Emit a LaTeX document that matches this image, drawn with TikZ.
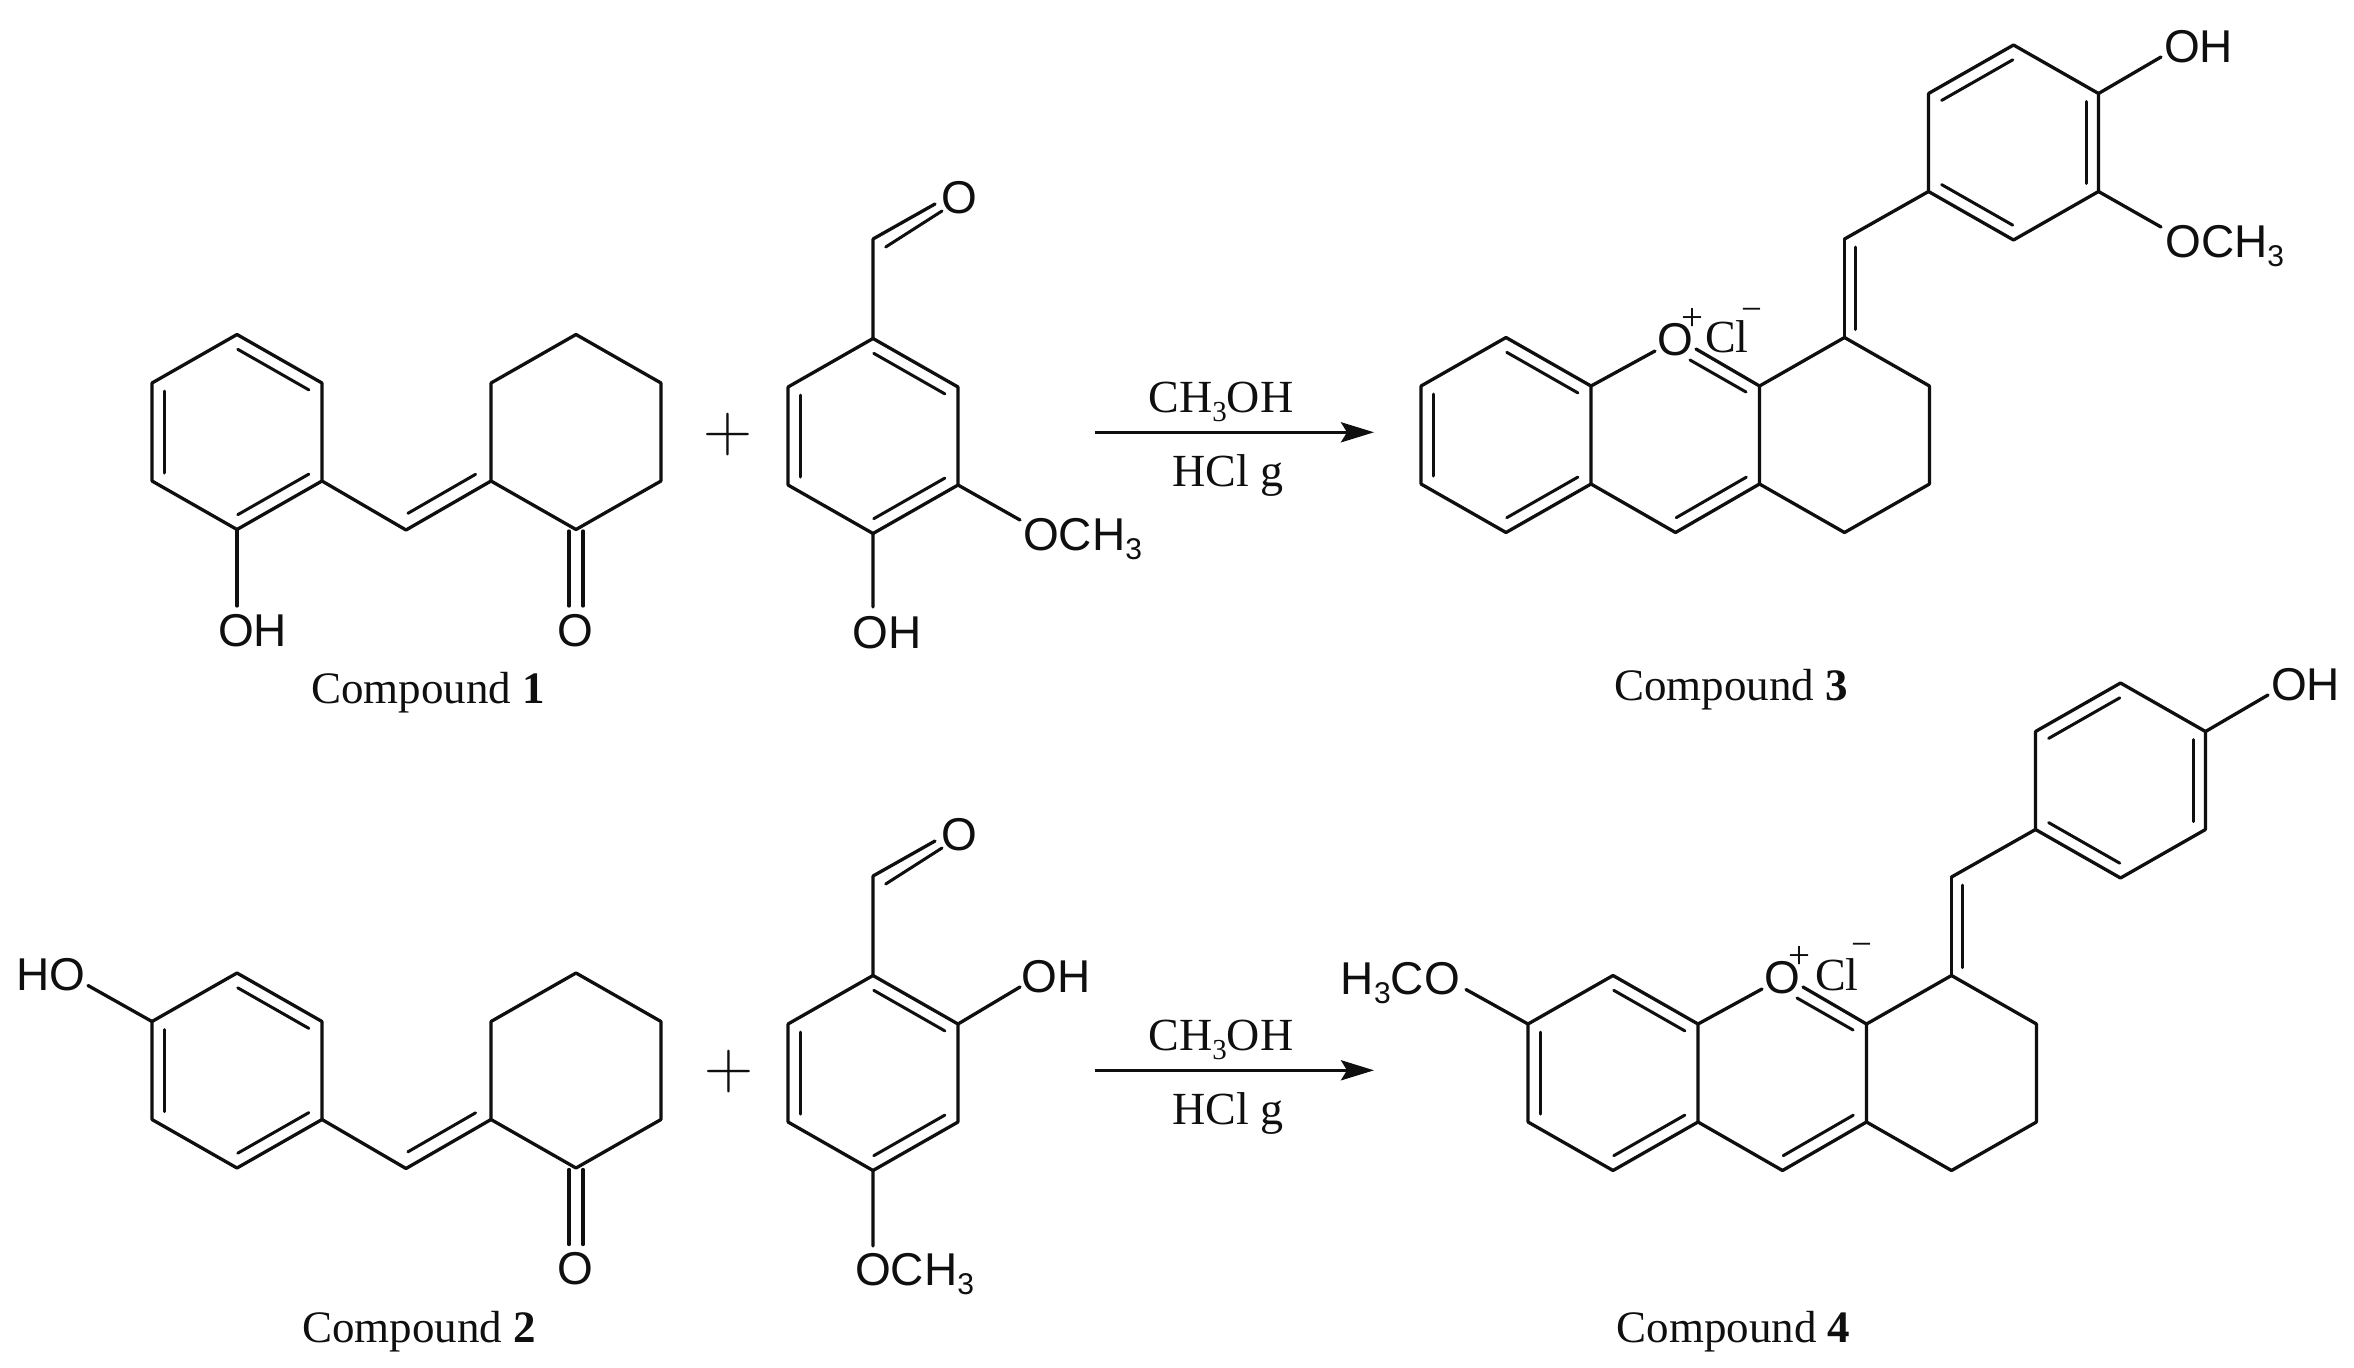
\documentclass[tikz,border=0pt]{standalone}
\usepackage{fontspec}
\usetikzlibrary{calc,arrows.meta}
\newfontfamily\lsans{Liberation Sans}
\newfontfamily\lserif{Liberation Serif}
\definecolor{ink}{HTML}{0F0F0F}
\newcommand\subsans{\raisebox{-9pt}{\fontsize{30}{30}\selectfont 3}}
\newcommand\subserif{\raisebox{-9pt}{\fontsize{29}{30}\selectfont 3}}
\tikzset{
  bond/.style={line width=3.3pt,line cap=round,draw=ink},
  innerbond/.style={line width=3pt,line cap=round,draw=ink},
  rxnarrow/.style={line width=3.4pt,draw=ink,-{Stealth[length=33pt,width=20pt,inset=6pt]}},
  atomlabel/.style={inner sep=0pt,anchor=base,text=ink,font=\lsans\fontsize{46}{50}\selectfont},
  atomwest/.style={atomlabel,anchor=base west},
  atomeast/.style={atomlabel,anchor=base east},
  serif/.style={inner sep=0pt,anchor=base,text=ink,font=\lserif\fontsize{46}{50}\selectfont},
  caption/.style={inner sep=0pt,anchor=base,text=ink,font=\lserif\fontsize{45}{50}\selectfont},
  plussign/.style={inner sep=0pt,text=ink,font=\fontsize{68}{70}\selectfont},
  chargeplus/.style={inner sep=0pt,text=ink,font=\lserif\fontsize{39}{40}\selectfont},
  chargeminus/.style={inner sep=0pt,text=ink,font=\lserif\fontsize{37}{40}\selectfont},
}
% six ring atoms: prefix, centre x, centre y
\newcommand\hexring[3]{%
  \coordinate (#1T)  at (#2,{#3-97.5});
  \coordinate (#1UR) at ({#2+85},{#3-49});
  \coordinate (#1LR) at ({#2+85},{#3+49});
  \coordinate (#1B)  at (#2,{#3+97.5});
  \coordinate (#1LL) at ({#2-85},{#3+49});
  \coordinate (#1UL) at ({#2-85},{#3-49});
  \draw[bond] (#1T)--(#1UR) (#1UR)--(#1LR) (#1LR)--(#1B) (#1B)--(#1LL) (#1LL)--(#1UL) (#1UL)--(#1T);
}
% inner line of a double bond, on the left of a->b: a, b, shortening, offset
\newcommand\dbl[4]{\draw[innerbond] ($(#1)!#3pt!(#2)!#4pt!90:(#2)$) -- ($(#2)!#3pt!(#1)!#4pt!-90:(#1)$);}
\newcommand\aromatic[1]{\dbl{#1UR}{#1T}{8}{12.5}\dbl{#1UL}{#1LL}{8}{12.5}\dbl{#1B}{#1LR}{8}{12.5}}
% aryl-CH=cyclohexanone, ring centre at y=0 of the scope
\newcommand\enone[1]{%
  \hexring{#1a}{237}{0}
  \aromatic{#1a}
  \hexring{#1k}{576}{0}
  \coordinate (#1ch) at (406,98);
  \draw[bond] (#1aLR)--(#1ch) (#1ch)--(#1kLL);
  \dbl{#1ch}{#1kLL}{10}{13.5}
  \coordinate (#1cl) at (569,99);
  \coordinate (#1cr) at (583,99);
  \coordinate (#1ol) at (569,174);
  \coordinate (#1or) at (583,174);
  \draw[bond] (#1cl)--(#1ol) (#1cr)--(#1or);
  \node[atomlabel] (#1keto) at (575,214) {O};
}
% benzaldehyde with its C=O, ring centre at y=0 of the scope
\newcommand\aldehyde[1]{%
  \hexring{#1r}{873}{0}
  \aromatic{#1r}
  \coordinate (#1cho) at (873,-197);
  \coordinate (#1oa) at (935,-232);
  \coordinate (#1ia) at (885.7,-189);
  \coordinate (#1ib) at (942,-225);
  \draw[bond] (#1rT)--(#1cho) (#1cho)--(#1oa);
  \draw[innerbond] (#1ia)--(#1ib);
  \node[atomlabel] (#1oxo) at (959,-223) {O};
}
% fused oxonium core + benzylidene ring, coordinates of compound 3
% args: prefix, shift x and shift y of the chloride and its charge
\newcommand\oxonium[3]{%
  \hexring{#1l}{1506}{435}
  \aromatic{#1l}
  \hexring{#1c}{1844.5}{435}
  \coordinate (#1mid) at (1675.5,532.5);
  \node[atomlabel] (#1O) at (1675,355) {O};
  \node[chargeplus] (#1plus) at (1692.5,319) {+};
  \node[serif,anchor=base west] (#1Cl) at ({1705+#2},352) {Cl};
  \node[chargeminus] (#1minus) at ({1751.5+#2},{315+#3}) {−};
  \draw[bond] (#1lLR)--(#1mid) (#1mid)--(#1cLL);
  \dbl{#1mid}{#1cLL}{8}{12.5}
  \coordinate (#1oc) at (1655,351);
  \draw[bond] (#1lUR)--(#1oc);
  \coordinate (#1oe) at (1696,349);
  \coordinate (#1ia) at (1690,360);
  \coordinate (#1ib) at (1746,392);
  \draw[bond] (#1cUL)--(#1oe);
  \draw[innerbond] (#1ia)--(#1ib);
  \coordinate (#1ex) at (1844.5,239);
  \draw[bond] (#1cT)--(#1ex);
  \dbl{#1ex}{#1cT}{8}{10.5}
  \hexring{#1u}{2013.5}{142.5}
  \draw[bond] (#1uLL)--(#1ex);
  \dbl{#1uT}{#1uUL}{8}{12.5}
  \dbl{#1uLR}{#1uUR}{8}{12.5}
  \dbl{#1uLL}{#1uB}{8}{12.5}
  \coordinate (#1oh) at (2161,57);
  \draw[bond] (#1uUR)--(#1oh);
  \node[atomlabel] (#1OHl) at (2198.5,62) {OH};
}
\newcommand\reaction[1]{%
  \coordinate (#1s) at (1095,432.3);
  \coordinate (#1t) at (1374,432.3);
  \draw[rxnarrow] (#1s)--(#1t);
  \node[serif] (#1top) at (1221,412) {CH\subserif OH};
  \node[serif] (#1bot) at (1228,486) {HCl g};
}
\begin{document}
\begin{tikzpicture}[x=1pt,y=-1pt]
\fill[white] (0,0) rectangle (2354,1368);
\useasboundingbox (0,0) rectangle (2354,1368);

% ---- top row ----
\begin{scope}[shift={(0,432)}]
  \enone{p}
  \coordinate (poh) at (237,174);
  \draw[bond] (paB)--(poh);
  \node[atomlabel] (pOH) at (252.5,214) {OH};
\end{scope}
\node[plussign] (plusa) at (728,435) {+};
\begin{scope}[shift={(0,436)}]
  \aldehyde{v}
  \coordinate (vm) at (1020,84);
  \coordinate (vh) at (873,171);
  \draw[bond] (vrLR)--(vm) (vrB)--(vh);
  \node[atomwest] (vOMe) at (1023,114) {OCH\subsans};
  \node[atomlabel] (vOH) at (887,212) {OH};
\end{scope}
\reaction{ra}
\oxonium{x}{0}{0}
\coordinate (xm) at (2161,227);
\draw[bond] (xuLR)--(xm);
\node[atomwest] (xOMe) at (2165,257) {OCH\subsans};

\node[caption] (labela) at (428,703) {Compound \textbf{1}};
\node[caption] (labelc) at (1731,700) {Compound \textbf{3}};

% ---- bottom row ----
\begin{scope}[shift={(0,1070.5)}]
  \enone{q}
  \coordinate (qoh) at (88,-85);
  \draw[bond] (qaUL)--(qoh);
  \node[atomlabel] (qOH) at (51,-80.5) {HO};
\end{scope}
\node[plussign] (plusb) at (728.5,1072) {+};
\begin{scope}[shift={(0,1073)}]
  \aldehyde{w}
  \coordinate (wh) at (1020,-86);
  \coordinate (wm) at (873,173);
  \draw[bond] (wrUR)--(wh) (wrB)--(wm);
  \node[atomlabel] (wOH) at (1056,-81) {OH};
  \node[atomwest] (wOMe) at (855,212) {OCH\subsans};
\end{scope}
\begin{scope}[shift={(0,638)}]
  \reaction{rb}
\end{scope}
\begin{scope}[shift={(107,638)}]
  \oxonium{y}{3}{-3}
  \coordinate (ym) at (1359,351.5);
  \draw[bond] (ylUL)--(ym);
  \node[atomeast] (yOMe) at (1353,356) {H\raisebox{-9pt}{\fontsize{30}{30}\selectfont 3}CO};
\end{scope}

\node[caption] (labelb) at (419,1342) {Compound \textbf{2}};
\node[caption] (labeld) at (1733.5,1342) {Compound \textbf{4}};
\end{tikzpicture}
\end{document}
